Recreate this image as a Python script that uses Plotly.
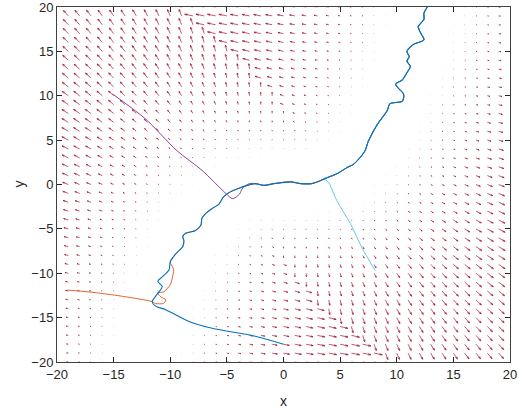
import numpy as np
import plotly.graph_objects as go

# ---- gradient field of a landscape whose valley follows y = x^3 / 96 ----
GRID_MIN, GRID_MAX, GRID_STEP = -20, 20, 1
VALLEY_COEF = 1.0 / 96.0
FIELD_MAX = 0.75      # largest arrow length (data units)
FIELD_WIDTH = 11.0    # distance at which the slope saturates

# ---- sample paths (x, y) before they reach the valley ----
orange_x = [-19.1, -17.2, -14.2, -11.6, -11.3, -10.6, -10.4, -10.9, -11.1, -10.6, -10.0, -9.8, -9.7]
orange_y = [-11.9, -12.1, -12.6, -13.2, -13.4, -13.4, -13.0, -12.6, -12.2, -12.1, -11.3, -10.4, -9.6]

blue_x = [0.0, -2.5, -6.3, -8.4, -10.4, -11.3, -11.6, -11.3, -11.0, -10.7, -11.1, -10.7, -10.1]
blue_y = [-18.0, -17.1, -16.2, -15.4, -14.1, -13.7, -13.2, -12.6, -12.1, -11.5, -10.9, -10.4, -9.6]

purple_x = [-15.1, -12.2, -9.4, -7.2, -5.1, -4.5, -3.9, -3.6, -3.0]
purple_y = [10.2, 7.4, 3.8, 1.6, -1.0, -1.6, -1.1, -0.4, 0.1]

lightblue_x = [8.1, 7.0, 5.9, 4.7, 4.0, 3.6, 3.9]
lightblue_y = [-9.7, -7.3, -4.4, -1.8, 0.2, 0.7, 0.8]

# shared wandering path along the valley
valley_x = [-10.0, -9.5, -8.9, -8.8, -8.9, -8.65, -7.8, -7.3, -7.2, -6.9, -6.3, -5.7, -5.3,
            -4.8, -4.1, -3.2, -2.5, -1.7, -0.85, 0.6, 1.5, 2.5, 3.0, 3.9, 4.7, 5.6, 6.2,
            6.8, 7.2, 7.5, 8.3, 9.15, 9.4, 10.5, 10.6, 10.1, 9.9, 10.5, 10.9, 11.2, 10.9,
            11.1, 10.9, 11.5, 12.4, 12.1, 11.9, 12.4, 12.4, 12.7]
valley_y = [-8.7, -7.8, -7.0, -6.3, -5.9, -5.5, -5.2, -4.6, -3.8, -3.3, -2.7, -2.2, -1.4,
            -0.9, -0.5, -0.1, 0.1, -0.1, 0.1, 0.3, 0.1, 0.1, 0.3, 0.8, 1.2, 1.9, 2.3,
            3.1, 3.8, 4.9, 6.8, 8.3, 9.1, 9.4, 10.2, 10.9, 11.3, 11.8, 12.6, 13.3, 13.9,
            14.4, 15.0, 15.8, 16.3, 17.1, 17.8, 18.6, 19.3, 20.0]

FIELD_COLOR = "#A2142F"
# (colour, line width, approach x, approach y, index where the path joins the valley list)
PATHS = [
    ("#7E2F8E", 0.9, purple_x, purple_y, 16),
    ("#D95319", 0.9, orange_x, orange_y, 0),
    ("#4DBEEE", 0.9, lightblue_x, lightblue_y, 24),
    ("#0072BD", 1.1, blue_x, blue_y, 0),
]

# ---- field on the grid: gradient of a function of distance to the valley ----
g = np.arange(GRID_MIN, GRID_MAX + GRID_STEP, GRID_STEP, dtype=float)
X, Y = np.meshgrid(g, g)
px, py = X.ravel(), Y.ravel()
t = np.linspace(-18, 18, 3601)
cx, cy = t, VALLEY_COEF * t ** 3
d2 = (px[:, None] - cx[None, :]) ** 2 + (py[:, None] - cy[None, :]) ** 2
k = np.argmin(d2, axis=1)
qx, qy = cx[k], cy[k]
D = np.sqrt(d2[np.arange(len(px)), k])
D = np.maximum(D, 1e-9)
mag = FIELD_MAX * (1 - np.exp(-(D / FIELD_WIDTH) ** 3))
U = mag * (px - qx) / D
V = mag * (py - qy) / D

# arrows with two-stroke heads
alpha, beta = 0.33, 0.33
sx, sy = [], []
for x0, y0, u, v in zip(px, py, U, V):
    x1, y1 = x0 + u, y0 + v
    sx += [x0, x1, None,
           x1 - alpha * (u + beta * v), x1, x1 - alpha * (u - beta * v), None]
    sy += [y0, y1, None,
           y1 - alpha * (v - beta * u), y1, y1 - alpha * (v + beta * u), None]

fig = go.Figure()
fig.add_trace(go.Scatter(x=sx, y=sy, mode="lines",
                         line=dict(color=FIELD_COLOR, width=0.7),
                         hoverinfo="skip", showlegend=False))

for color, w, xs, ys, j in PATHS:
    fig.add_trace(go.Scatter(x=xs + valley_x[j:], y=ys + valley_y[j:], mode="lines",
                             line=dict(color=color, width=w, shape="spline", smoothing=0.8),
                             showlegend=False))

font = dict(family="Liberation Sans, Arial, sans-serif", size=13, color="#262626")
axis_common = dict(
    range=[-20, 20], tickvals=list(range(-20, 21, 5)),
    ticks="inside", ticklen=5, tickcolor="#262626", tickwidth=1,
    showline=True, linecolor="#404040", linewidth=1, mirror="ticks",
    showgrid=False, zeroline=False, ticklabeloverflow="allow",
    automargin=False, tickfont=font,
)
MARGIN = dict(l=57, r=12, t=7, b=50)
fig.update_layout(
    width=522, height=412,
    margin=MARGIN,
    paper_bgcolor="white", plot_bgcolor="white",
    xaxis=dict(axis_common, title=dict(text="x", font=dict(font, size=14))),
    yaxis=dict(axis_common),
)
# y-axis label placed beside the tick labels
plot_w = 522 - MARGIN["l"] - MARGIN["r"]
fig.add_annotation(text="y", xref="paper", yref="paper",
                   x=(18 - MARGIN["l"]) / plot_w, y=0.5, textangle=-90,
                   showarrow=False, font=dict(font, size=14),
                   xanchor="center", yanchor="middle")

fig.write_html("out.html")
